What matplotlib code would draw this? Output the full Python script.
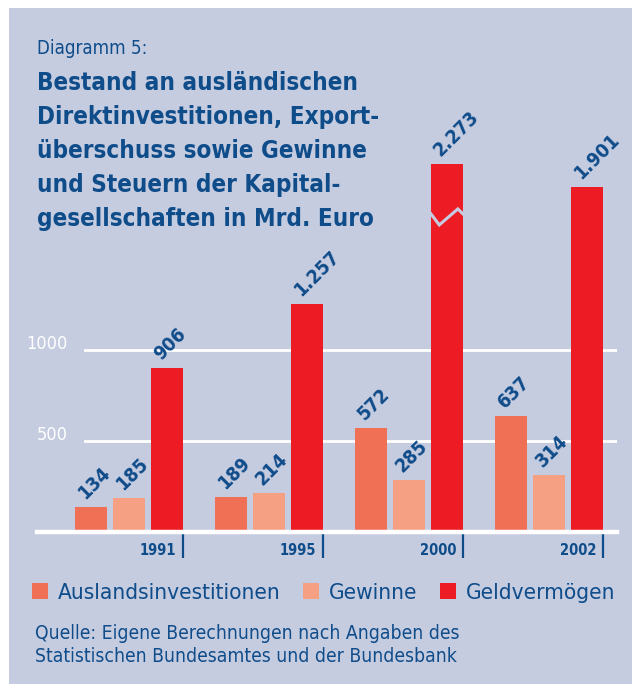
#!/usr/bin/env python3
"""Diagramm 5: Direktinvestitionen, Gewinne und Geldvermoegen (grouped bars)."""

import matplotlib

matplotlib.use("Agg")
import matplotlib.pyplot as plt
from matplotlib.patches import Patch, Rectangle
from matplotlib.transforms import blended_transform_factory

YEARS = ["1991", "1995", "2000", "2002"]
SERIES = ["Auslandsinvestitionen", "Gewinne", "Geldvermögen"]
AUSLAND = [134, 189, 572, 637]
GEWINNE = [185, 214, 285, 314]
GELD = [906, 1257, 2273, 1901]
VALUE_LABELS = [
    ["134", "189", "572", "637"],
    ["185", "214", "285", "314"],
    ["906", "1.257", "2.273", "1.901"],
]
Y_TICKS = [500, 1000]
BREAK_CAP = 2030  # broken bar is drawn only up to this height

BG = "#c5cce0"
BLUE = "#0f4c8a"
COLORS = ["#f07055", "#f5a083", "#ed1c24"]

W, H = 632, 684
plt.rcParams["font.family"] = "DejaVu Sans"
plt.rcParams["font.stretch"] = "condensed"

fig = plt.figure(figsize=(W / 100, H / 100), dpi=100)
fig.patch.set_facecolor("white")
fig.patches.append(Rectangle((9 / W, 0), 1, 1 - 8 / H, transform=fig.transFigure,
                             facecolor=BG, edgecolor="none", zorder=-10))

# axes: baseline at y=531.5px, 0.181 px per unit
ymax = 2300
base_px = 531.5
top_px = base_px - ymax * 0.181
ax = fig.add_axes([37 / W, 1 - base_px / H, 580 / W, (base_px - top_px) / H])
ax.set_facecolor("none")
ax.set_xlim(-0.657, 3.486)
ax.set_ylim(0, ymax)
for s in ax.spines.values():
    s.set_visible(False)

step = 38 / 140
width = 32 / 140
series_vals = [AUSLAND, GEWINNE, GELD]
for k, vals in enumerate(series_vals):
    xs = [i + (k - 1) * step for i in range(len(YEARS))]
    shown = [min(v, BREAK_CAP) for v in vals]
    ax.bar(xs, shown, width=width, color=COLORS[k], zorder=3)
    for i, (x, v) in enumerate(zip(xs, shown)):
        ax.annotate(VALUE_LABELS[k][i], xy=(x - width / 2, v), xytext=(7, 5),
                    textcoords="offset points", rotation=45, rotation_mode="anchor",
                    ha="left", va="baseline", fontsize=14, fontweight="bold",
                    color=BLUE, zorder=5, annotation_clip=False)
        if vals[i] > BREAK_CAP:
            x0 = x - width / 2
            u = 5.52  # data units per pixel
            bx = [x0, x0 + width * 0.26, x0 + width * 0.84, x0 + width]
            by = [1760 - 1 * u, 1760 - 12 * u, 1760 + 4 * u, 1760 - 1 * u]
            ax.plot(bx, by, color=BG, lw=2.2, zorder=4, solid_joinstyle="miter")

# grid lines and baseline
for t in Y_TICKS:
    ax.axhline(t, xmin=48 / 580, xmax=1, color="white", lw=2, zorder=1)
ax.axhline(0, xmin=0, xmax=1, color="white", lw=3.2, zorder=4, clip_on=False)
bt = blended_transform_factory(ax.transAxes, ax.transData)
for t in Y_TICKS:
    ax.text(31 / 580, t + 6, str(t), transform=bt, ha="right", va="baseline",
            color="white", fontsize=13)

# group separators and year labels
seps = [i + step + width / 2 for i in range(len(YEARS))]
ax.set_xticks(seps)
ax.set_xticklabels([""] * len(seps))
ax.tick_params(axis="x", length=19, width=1.6, color=BLUE, direction="out", pad=0)
ax.set_yticks([])
for x, yr in zip(seps, YEARS):
    ax.annotate(yr, xy=(x, 0), xytext=(-5, -14), textcoords="offset points",
                ha="right", va="center", fontsize=10.5, fontweight="bold", color=BLUE)

# legend
handles = [Patch(facecolor=c, edgecolor="none") for c in COLORS]
fig.legend(handles, SERIES, loc="center left", bbox_to_anchor=(32 / W, 1 - 593 / H),
           ncol=3, frameon=False, fontsize=16.2, labelcolor=BLUE, borderpad=0,
           borderaxespad=0, handlelength=0.7, handleheight=0.7, handletextpad=0.45,
           columnspacing=1.0)

fig.text(37 / W, 1 - 48 / H, "Diagramm 5:", fontsize=13.4, color=BLUE, va="center")
fig.text(37 / W, 1 - 71 / H,
         "Bestand an ausländischen\nDirektinvestitionen, Export-\nüberschuss sowie Gewinne\n"
         "und Steuern der Kapital-\ngesellschaften in Mrd. Euro",
         fontsize=17.4, fontweight="bold", color=BLUE, va="top", linespacing=1.53)
fig.text(35 / W, 1 - 624 / H,
         "Quelle: Eigene Berechnungen nach Angaben des\nStatistischen Bundesamtes und der Bundesbank",
         fontsize=13.9, color=BLUE, va="top", linespacing=1.25)

fig.savefig("out.png", dpi=100)
